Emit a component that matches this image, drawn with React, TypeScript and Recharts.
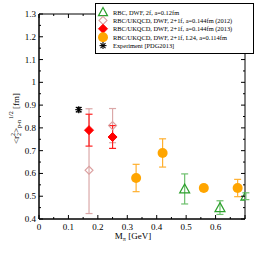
import { ComposedChart, Scatter, XAxis, YAxis, ErrorBar, ReferenceArea } from "recharts";

// RBC, DWF, 2f, a=0.12fm
const rbc2fMpi = [0.495, 0.615, 0.703];
const rbc2fR = [0.532, 0.45, 0.5];
const rbc2fErr = [0.066, 0.03, 0.015];

// RBC/UKQCD 2+1f a=0.144fm (2012)  -- [lower, upper]
const ukqcd2012Mpi = [0.17, 0.25];
const ukqcd2012R = [0.614, 0.81];
const ukqcd2012Err = [
  [0.19, 0.27],
  [0.075, 0.075],
];

// RBC/UKQCD 2+1f a=0.144fm (2013)
const ukqcd2013Mpi = [0.17, 0.25];
const ukqcd2013R = [0.79, 0.76];
const ukqcd2013Err = [0.07, 0.05];

// RBC/UKQCD 2+1f L24 a=0.114fm
const l24Mpi = [0.33, 0.42, 0.56, 0.675];
const l24R = [0.58, 0.69, 0.536, 0.536];
const l24Err = [0.06, 0.062, 0.012, 0.038];

// experiment
const expMpi = [0.135];
const expR = [0.88];
const expErr = [0.01];

const xTicks = [0, 0.05, 0.1, 0.15, 0.2, 0.25, 0.3, 0.35, 0.4, 0.45, 0.5, 0.55, 0.6, 0.65, 0.7];
const xLabels = ["0", "0.1", "0.2", "0.3", "0.4", "0.5", "0.6"];
const yTicks = [0.4, 0.45, 0.5, 0.55, 0.6, 0.65, 0.7, 0.75, 0.8, 0.85, 0.9, 0.95, 1, 1.05, 1.1, 1.15, 1.2, 1.25, 1.3];
const yLabels = ["0.4", "0.5", "0.6", "0.7", "0.8", "0.9", "1", "1.1", "1.2", "1.3"];

const legendNames = [
  "RBC, DWF,  2f, a=0.12fm",
  "RBC/UKQCD, DWF, 2+1f, a=0.144fm (2012)",
  "RBC/UKQCD, DWF, 2+1f, a=0.144fm (2013)",
  "RBC/UKQCD, DWF, 2+1f, L24, a=0.114fm",
  "Experiment [PDG2013]",
];

const W = 258;
const H = 258;
const M = { top: 14, right: 13, bottom: 0, left: 0 };
const XAX_H = 39;
const YAX_W = 39;
const LEFT = M.left + YAX_W;
const RIGHT = W - M.right;
const TOP = M.top;
const BOTTOM = H - M.bottom - XAX_H;
const FONT = "'Liberation Serif', 'DejaVu Serif', serif";

const zip = (xs: number[], ys: number[], es: any[]) =>
  xs.map((x, i) => ({ x, y: ys[i], err: es[i] }));

const fmt = (v: number) => String(Number(v.toFixed(2)));
const isMajor = (v: number) => Math.abs(v * 10 - Math.round(v * 10)) < 1e-6;

const Tri = ({ cx, cy, s = 1 }: any) => (
  <path
    d={`M${cx},${cy - 5 * s} L${cx + 5 * s},${cy + 4 * s} L${cx - 5 * s},${cy + 4 * s} Z`}
    fill="none"
    stroke="#2ca02c"
    strokeWidth={1.2}
  />
);
const OpenDiamond = ({ cx, cy }: any) => (
  <path d={`M${cx},${cy - 4} L${cx + 4},${cy} L${cx},${cy + 4} L${cx - 4},${cy} Z`} fill="none" stroke="#dba0a0" strokeWidth={1.1} />
);
const RedDiamond = ({ cx, cy }: any) => (
  <path d={`M${cx},${cy - 4.5} L${cx + 4.5},${cy} L${cx},${cy + 4.5} L${cx - 4.5},${cy} Z`} fill="#ff0000" stroke="#ff0000" strokeWidth={1} strokeLinejoin="round" />
);
const Dot = ({ cx, cy }: any) => <circle cx={cx} cy={cy} r={5} fill="#ffa500" />;
const Star = ({ cx, cy }: any) => (
  <g stroke="#000" strokeWidth={1.1}>
    <line x1={cx - 3.5} x2={cx + 3.5} y1={cy} y2={cy} />
    <line x1={cx} x2={cx} y1={cy - 3.5} y2={cy + 3.5} />
    <line x1={cx - 2.5} x2={cx + 2.5} y1={cy - 2.5} y2={cy + 2.5} />
    <line x1={cx - 2.5} x2={cx + 2.5} y1={cy + 2.5} y2={cy - 2.5} />
  </g>
);

const XTick = ({ x, payload }: any) => {
  const v = payload.value;
  const major = isMajor(v);
  const len = major ? 4 : 2;
  const lab = fmt(v);
  return (
    <g stroke="#000" strokeWidth={1}>
      <line x1={x} x2={x} y1={BOTTOM} y2={BOTTOM - len} />
      <line x1={x} x2={x} y1={TOP} y2={TOP + len} />
      {major && xLabels.includes(lab) && (
        <text x={x} y={BOTTOM + 11} textAnchor="middle" stroke="none" fill="#000" fontSize={9} fontFamily={FONT}>
          {lab}
        </text>
      )}
    </g>
  );
};

const YTick = ({ y, payload }: any) => {
  const v = payload.value;
  const major = isMajor(v);
  const len = major ? 4 : 2;
  const lab = fmt(v);
  return (
    <g stroke="#000" strokeWidth={1}>
      <line x1={LEFT} x2={LEFT + len} y1={y} y2={y} />
      <line x1={RIGHT} x2={RIGHT - len} y1={y} y2={y} />
      {major && yLabels.includes(lab) && (
        <text x={LEFT - 3} y={y + 3} textAnchor="end" stroke="none" fill="#000" fontSize={9} fontFamily={FONT}>
          {lab}
        </text>
      )}
    </g>
  );
};

const YLabel = () => (
  <text transform={`translate(19,${(TOP + BOTTOM) / 2 + 2}) rotate(-90)`} textAnchor="middle" fontSize={9} fontFamily={FONT} fill="#000">
    <tspan>&lt;r</tspan>
    <tspan fontSize={6} dy={2}>2</tspan>
    <tspan fontSize={6} dx={-3} dy={-6}>2</tspan>
    <tspan dy={4}>&gt;</tspan>
    <tspan fontSize={6} dy={2}>p-n</tspan>
    <tspan fontSize={6} dx={1} dy={-8}>1/2</tspan>
    <tspan dy={6}> [fm]</tspan>
  </text>
);

const XLabel = () => (
  <text x={133} y={BOTTOM + 20} textAnchor="middle" fontSize={9} fontFamily={FONT} fill="#000">
    <tspan>M</tspan>
    <tspan fontSize={6} dy={2}>π</tspan>
    <tspan dy={-2}> [GeV]</tspan>
  </text>
);

const legendShapes = [
  (cx: number, cy: number) => <Tri cx={cx} cy={cy} s={0.9} />,
  (cx: number, cy: number) => <OpenDiamond cx={cx} cy={cy} />,
  (cx: number, cy: number) => <RedDiamond cx={cx} cy={cy} />,
  (cx: number, cy: number) => <Dot cx={cx} cy={cy} />,
  (cx: number, cy: number) => <Star cx={cx} cy={cy} />,
];

const LegendBox = () => (
  <svg width={162} height={54} style={{ position: "absolute", left: 94, top: 2 }}>
    <rect x={1.5} y={1.5} width={158} height={50} fill="#fff" stroke="#000" strokeWidth={1} />
    {legendNames.map((n, i) => (
      <g key={n}>
        {legendShapes[i](9, 10 + i * 8.4)}
        <text x={19} y={12.5 + i * 8.4} fontSize={6.4} fontFamily={FONT} fill="#000">
          {n}
        </text>
      </g>
    ))}
  </svg>
);

export default function App() {
  return (
    <div style={{ position: "absolute", left: 0, top: 0, width: W, height: H, background: "#fff" }}>
      <ComposedChart width={W} height={H} margin={M}>
        <XAxis
          type="number"
          dataKey="x"
          domain={[0, 0.7]}
          ticks={xTicks}
          interval={0}
          tickLine={false}
          tick={<XTick />}
          height={XAX_H}
          stroke="#000"
          label={{ content: () => <XLabel /> }}
          allowDataOverflow
        />
        <YAxis
          type="number"
          dataKey="y"
          domain={[0.4, 1.3]}
          ticks={yTicks}
          interval={0}
          tickLine={false}
          tick={<YTick />}
          width={YAX_W}
          stroke="#000"
          label={{ content: () => <YLabel /> }}
          allowDataOverflow
        />
        <ReferenceArea x1={0} x2={0.7} y1={0.4} y2={1.3} fill="none" stroke="#000" strokeWidth={1} ifOverflow="visible" />
        <Scatter data={zip(rbc2fMpi, rbc2fR, rbc2fErr)} shape={(p: any) => <Tri cx={p.cx} cy={p.cy} />} isAnimationActive={false}>
          <ErrorBar dataKey="err" direction="y" width={3.5} stroke="#6cbf6c" strokeWidth={1.2} />
        </Scatter>
        <Scatter data={zip(ukqcd2012Mpi, ukqcd2012R, ukqcd2012Err)} shape={(p: any) => <OpenDiamond cx={p.cx} cy={p.cy} />} isAnimationActive={false}>
          <ErrorBar dataKey="err" direction="y" width={3.5} stroke="#dba8a8" strokeWidth={1.2} />
        </Scatter>
        <Scatter data={zip(ukqcd2013Mpi, ukqcd2013R, ukqcd2013Err)} shape={(p: any) => <RedDiamond cx={p.cx} cy={p.cy} />} isAnimationActive={false}>
          <ErrorBar dataKey="err" direction="y" width={3.5} stroke="#ff2020" strokeWidth={1.2} />
        </Scatter>
        <Scatter data={zip(l24Mpi, l24R, l24Err)} shape={(p: any) => <Dot cx={p.cx} cy={p.cy} />} isAnimationActive={false}>
          <ErrorBar dataKey="err" direction="y" width={3.5} stroke="#ffb030" strokeWidth={1.2} />
        </Scatter>
        <Scatter data={zip(expMpi, expR, expErr)} shape={(p: any) => <Star cx={p.cx} cy={p.cy} />} isAnimationActive={false}>
          <ErrorBar dataKey="err" direction="y" width={3} stroke="#000" strokeWidth={1} />
        </Scatter>
      </ComposedChart>
      <LegendBox />
    </div>
  );
}
